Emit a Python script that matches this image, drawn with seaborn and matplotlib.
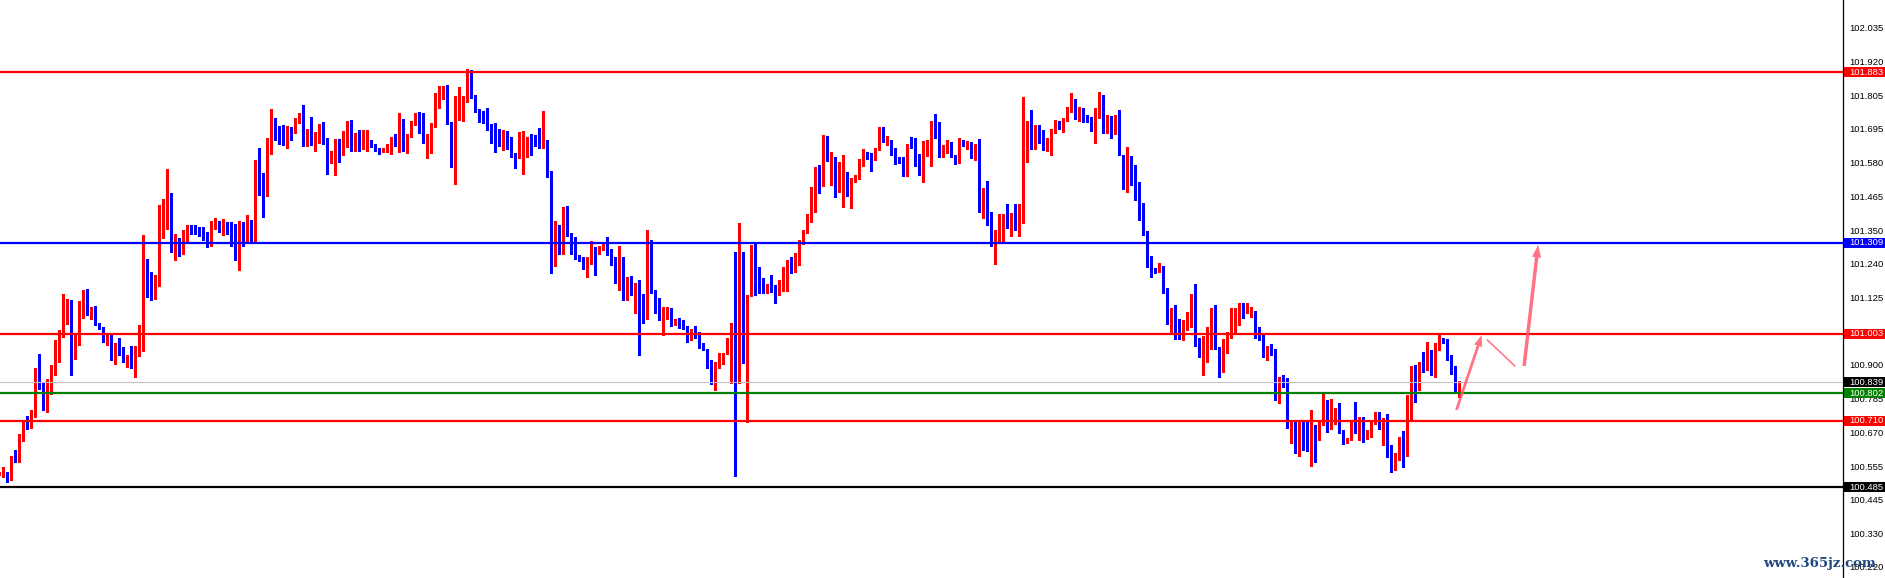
import numpy as np
import matplotlib
matplotlib.use("Agg")
import matplotlib.pyplot as plt
import matplotlib.transforms as mtransforms
from matplotlib.patches import Rectangle
import seaborn as sns

# ========== data (one candle per bar, oldest first) ==========
opens = [
    100.529, 100.529, 100.535, 100.527, 100.580, 100.571, 100.642, 100.702, 100.695, 100.732,
    100.853, 100.839, 100.783, 100.848, 100.871, 100.958, 100.992, 101.080, 101.116, 100.925,
    100.966, 101.082, 101.143, 101.066, 101.093, 101.039, 101.024, 100.977, 100.994, 100.927,
    100.970, 100.950, 100.909, 100.919, 100.909, 100.940, 100.949, 101.242, 101.161, 101.135,
    101.168, 101.361, 101.375, 101.455, 101.281, 101.316, 101.277, 101.317, 101.364, 101.356,
    101.353, 101.339, 101.336, 101.311, 101.371, 101.378, 101.367, 101.370, 101.356, 101.308,
    101.287, 101.377, 101.329, 101.381, 101.377, 101.504, 101.500, 101.489, 101.610, 101.719,
    101.692, 101.672, 101.659, 101.694, 101.679, 101.727, 101.739, 101.659, 101.682, 101.663,
    101.675, 101.682, 101.652, 101.579, 101.608, 101.628, 101.615, 101.649, 101.719, 101.649,
    101.662, 101.635, 101.652, 101.655, 101.640, 101.628, 101.616, 101.622, 101.625, 101.661,
    101.642, 101.723, 101.633, 101.669, 101.711, 101.747, 101.689, 101.644, 101.672, 101.700,
    101.781, 101.821, 101.841, 101.716, 101.590, 101.760, 101.770, 101.785, 101.882, 101.801,
    101.756, 101.725, 101.715, 101.699, 101.682, 101.676, 101.655, 101.664, 101.642, 101.608,
    101.597, 101.601, 101.608, 101.661, 101.638, 101.636, 101.631, 101.635, 101.549, 101.251,
    101.345, 101.289, 101.427, 101.335, 101.327, 101.264, 101.253, 101.233, 101.238, 101.287,
    101.276, 101.287, 101.302, 101.285, 101.246, 101.220, 101.234, 101.130, 101.178, 101.137,
    101.159, 101.137, 101.053, 101.315, 101.144, 101.111, 101.053, 101.080, 101.089, 101.038,
    101.046, 101.040, 101.026, 100.989, 101.017, 101.007, 100.970, 100.952, 100.914, 100.838,
    100.890, 100.903, 100.937, 100.986, 101.004, 100.889, 101.217, 101.023, 101.133, 101.234,
    101.167, 101.158, 101.148, 101.170, 101.163, 101.133, 101.178, 101.218, 101.245, 101.240,
    101.240, 101.309, 101.343, 101.386, 101.437, 101.563, 101.504, 101.638, 101.588, 101.597,
    101.492, 101.526, 101.545, 101.476, 101.518, 101.525, 101.582, 101.608, 101.604, 101.588,
    101.624, 101.695, 101.652, 101.655, 101.612, 101.590, 101.590, 101.535, 101.641, 101.631,
    101.571, 101.543, 101.605, 101.605, 101.717, 101.709, 101.613, 101.622, 101.631, 101.605,
    101.582, 101.648, 101.644, 101.646, 101.622, 101.638, 101.465, 101.491, 101.406, 101.315,
    101.349, 101.369, 101.400, 101.389, 101.408, 101.367, 101.400, 101.676, 101.686, 101.667,
    101.686, 101.658, 101.653, 101.655, 101.680, 101.716, 101.700, 101.723, 101.762, 101.792,
    101.745, 101.759, 101.732, 101.732, 101.687, 101.756, 101.792, 101.720, 101.725, 101.678,
    101.736, 101.605, 101.534, 101.540, 101.510, 101.492, 101.395, 101.343, 101.248, 101.220,
    101.215, 101.231, 101.141, 101.038, 101.087, 101.038, 101.021, 101.038, 101.038, 101.096,
    100.978, 100.957, 100.995, 101.004, 101.047, 100.952, 100.892, 100.939, 100.991, 101.021,
    101.058, 101.088, 101.077, 101.066, 101.080, 101.004, 101.002, 100.946, 100.959, 100.944,
    100.791, 100.849, 100.838, 100.698, 100.701, 100.633, 100.692, 100.665, 100.620, 100.665,
    100.650, 100.698, 100.746, 100.692, 100.703, 100.740, 100.676, 100.639, 100.647, 100.701,
    100.681, 100.721, 100.650, 100.676, 100.701, 100.718, 100.692, 100.718, 100.602, 100.544,
    100.594, 100.642, 100.591, 100.746, 100.894, 100.819, 100.905, 100.889, 100.928, 100.867,
    100.950, 100.987, 100.982, 100.928, 100.892, 100.821,
]
highs = [
    100.538, 100.554, 100.537, 100.590, 100.610, 100.664, 100.706, 100.725, 100.745, 100.887,
    100.934, 100.840, 100.850, 100.896, 100.981, 101.015, 101.136, 101.121, 101.118, 100.998,
    101.112, 101.149, 101.152, 101.093, 101.095, 101.040, 101.026, 101.003, 100.998, 100.970,
    100.990, 100.958, 100.932, 100.960, 100.960, 101.033, 101.336, 101.255, 101.211, 101.201,
    101.437, 101.457, 101.558, 101.478, 101.339, 101.326, 101.353, 101.370, 101.370, 101.370,
    101.361, 101.364, 101.347, 101.381, 101.393, 101.384, 101.390, 101.378, 101.378, 101.371,
    101.383, 101.380, 101.402, 101.386, 101.588, 101.627, 101.544, 101.661, 101.760, 101.728,
    101.702, 101.706, 101.702, 101.700, 101.731, 101.747, 101.773, 101.692, 101.733, 101.683,
    101.709, 101.716, 101.661, 101.619, 101.659, 101.659, 101.686, 101.720, 101.723, 101.679,
    101.689, 101.689, 101.689, 101.656, 101.641, 101.629, 101.628, 101.641, 101.666, 101.676,
    101.747, 101.725, 101.676, 101.720, 101.748, 101.751, 101.745, 101.676, 101.711, 101.815,
    101.837, 101.837, 101.841, 101.716, 101.804, 101.835, 101.804, 101.893, 101.891, 101.807,
    101.759, 101.754, 101.764, 101.709, 101.711, 101.691, 101.689, 101.686, 101.664, 101.613,
    101.683, 101.687, 101.667, 101.675, 101.672, 101.695, 101.753, 101.655, 101.551, 101.382,
    101.369, 101.431, 101.434, 101.341, 101.328, 101.268, 101.260, 101.262, 101.314, 101.296,
    101.300, 101.313, 101.330, 101.289, 101.260, 101.298, 101.262, 101.195, 101.197, 101.175,
    101.184, 101.138, 101.352, 101.318, 101.149, 101.122, 101.092, 101.094, 101.090, 101.052,
    101.055, 101.049, 101.029, 101.020, 101.029, 101.008, 100.971, 100.953, 100.915, 100.909,
    100.937, 100.938, 100.988, 101.038, 101.279, 101.375, 101.277, 101.134, 101.302, 101.307,
    101.226, 101.189, 101.170, 101.200, 101.167, 101.184, 101.226, 101.251, 101.262, 101.276,
    101.318, 101.352, 101.405, 101.498, 101.563, 101.571, 101.672, 101.669, 101.616, 101.599,
    101.582, 101.605, 101.546, 101.526, 101.537, 101.590, 101.624, 101.616, 101.613, 101.627,
    101.700, 101.700, 101.669, 101.656, 101.627, 101.599, 101.599, 101.642, 101.667, 101.661,
    101.607, 101.652, 101.655, 101.719, 101.743, 101.717, 101.638, 101.655, 101.649, 101.605,
    101.661, 101.655, 101.652, 101.650, 101.642, 101.659, 101.495, 101.518, 101.414, 101.352,
    101.406, 101.406, 101.440, 101.409, 101.440, 101.440, 101.801, 101.720, 101.756, 101.706,
    101.706, 101.689, 101.661, 101.691, 101.723, 101.720, 101.728, 101.768, 101.815, 101.793,
    101.768, 101.762, 101.740, 101.734, 101.762, 101.818, 101.807, 101.740, 101.736, 101.740,
    101.756, 101.606, 101.631, 101.601, 101.570, 101.515, 101.442, 101.350, 101.265, 101.223,
    101.242, 101.232, 101.156, 101.091, 101.100, 101.051, 101.049, 101.077, 101.136, 101.170,
    100.987, 100.996, 101.027, 101.088, 101.100, 100.957, 100.986, 101.010, 101.088, 101.088,
    101.105, 101.105, 101.107, 101.094, 101.081, 101.026, 101.003, 100.961, 100.968, 100.953,
    100.858, 100.864, 100.853, 100.712, 100.706, 100.710, 100.712, 100.710, 100.746, 100.695,
    100.706, 100.802, 100.779, 100.782, 100.751, 100.768, 100.677, 100.651, 100.706, 100.774,
    100.723, 100.723, 100.679, 100.712, 100.740, 100.740, 100.719, 100.732, 100.628, 100.601,
    100.654, 100.676, 100.796, 100.894, 100.897, 100.909, 100.942, 100.976, 100.948, 100.973,
    101.004, 100.989, 100.984, 100.931, 100.894, 100.843,
]
lows = [
    100.526, 100.520, 100.504, 100.509, 100.571, 100.570, 100.641, 100.683, 100.686, 100.723,
    100.817, 100.745, 100.739, 100.801, 100.864, 100.908, 100.991, 101.037, 100.863, 100.918,
    100.965, 101.057, 101.065, 101.054, 101.031, 101.018, 100.974, 100.964, 100.916, 100.902,
    100.930, 100.907, 100.892, 100.886, 100.857, 100.928, 100.946, 101.125, 101.115, 101.119,
    101.165, 101.324, 101.357, 101.279, 101.250, 101.263, 101.270, 101.314, 101.339, 101.339,
    101.333, 101.317, 101.294, 101.297, 101.354, 101.344, 101.337, 101.339, 101.299, 101.250,
    101.216, 101.300, 101.309, 101.309, 101.309, 101.470, 101.397, 101.468, 101.609, 101.655,
    101.642, 101.638, 101.628, 101.657, 101.678, 101.714, 101.635, 101.635, 101.637, 101.618,
    101.644, 101.642, 101.541, 101.578, 101.537, 101.582, 101.606, 101.633, 101.619, 101.619,
    101.619, 101.624, 101.619, 101.631, 101.619, 101.609, 101.615, 101.616, 101.608, 101.635,
    101.616, 101.619, 101.613, 101.667, 101.706, 101.678, 101.644, 101.596, 101.613, 101.699,
    101.764, 101.792, 101.709, 101.563, 101.506, 101.723, 101.721, 101.784, 101.796, 101.751,
    101.717, 101.711, 101.689, 101.644, 101.616, 101.635, 101.622, 101.624, 101.597, 101.562,
    101.596, 101.541, 101.597, 101.604, 101.634, 101.627, 101.630, 101.532, 101.208, 101.231,
    101.273, 101.270, 101.331, 101.271, 101.253, 101.249, 101.222, 101.195, 101.237, 101.202,
    101.271, 101.285, 101.268, 101.236, 101.175, 101.150, 101.118, 101.116, 101.133, 101.074,
    100.932, 101.040, 101.052, 101.141, 101.074, 101.049, 100.997, 101.053, 101.029, 101.032,
    101.023, 101.018, 100.976, 100.982, 100.989, 100.954, 100.948, 100.886, 100.833, 100.813,
    100.886, 100.901, 100.936, 100.838, 100.523, 100.838, 100.905, 100.706, 101.130, 101.133,
    101.141, 101.139, 101.139, 101.144, 101.107, 101.132, 101.148, 101.148, 101.208, 101.212,
    101.234, 101.305, 101.341, 101.379, 101.414, 101.478, 101.500, 101.586, 101.504, 101.464,
    101.481, 101.431, 101.467, 101.427, 101.514, 101.523, 101.568, 101.590, 101.552, 101.587,
    101.622, 101.649, 101.638, 101.605, 101.575, 101.579, 101.534, 101.534, 101.630, 101.568,
    101.536, 101.515, 101.602, 101.568, 101.661, 101.599, 101.599, 101.610, 101.597, 101.575,
    101.579, 101.635, 101.624, 101.594, 101.588, 101.414, 101.391, 101.369, 101.299, 101.238,
    101.309, 101.315, 101.358, 101.332, 101.352, 101.332, 101.377, 101.582, 101.624, 101.624,
    101.644, 101.622, 101.619, 101.605, 101.678, 101.691, 101.683, 101.720, 101.751, 101.725,
    101.720, 101.717, 101.717, 101.686, 101.646, 101.728, 101.680, 101.680, 101.663, 101.676,
    101.604, 101.492, 101.481, 101.504, 101.453, 101.386, 101.336, 101.229, 101.195, 101.208,
    101.212, 101.139, 101.035, 101.006, 100.984, 100.984, 100.982, 101.017, 101.026, 100.961,
    100.923, 100.864, 100.909, 100.950, 100.950, 100.856, 100.875, 100.938, 100.987, 101.010,
    101.032, 101.055, 101.074, 101.060, 100.990, 100.981, 100.923, 100.916, 100.931, 100.779,
    100.770, 100.822, 100.684, 100.636, 100.602, 100.591, 100.611, 100.609, 100.557, 100.572,
    100.645, 100.697, 100.673, 100.681, 100.698, 100.669, 100.633, 100.636, 100.645, 100.669,
    100.645, 100.639, 100.647, 100.656, 100.698, 100.681, 100.628, 100.586, 100.538, 100.543,
    100.577, 100.555, 100.590, 100.714, 100.774, 100.813, 100.875, 100.880, 100.864, 100.856,
    100.948, 100.970, 100.914, 100.867, 100.807, 100.791,
]
closes = [
    100.534, 100.536, 100.527, 100.583, 100.571, 100.644, 100.702, 100.699, 100.738, 100.853,
    100.837, 100.783, 100.849, 100.876, 100.961, 100.994, 101.082, 101.116, 100.927, 100.970,
    101.082, 101.143, 101.066, 101.091, 101.039, 101.019, 100.981, 100.994, 100.927, 100.966,
    100.947, 100.908, 100.917, 100.909, 100.942, 100.953, 101.245, 101.159, 101.133, 101.171,
    101.366, 101.377, 101.455, 101.283, 101.314, 101.277, 101.319, 101.364, 101.354, 101.348,
    101.334, 101.334, 101.311, 101.373, 101.378, 101.367, 101.371, 101.352, 101.302, 101.287,
    101.377, 101.330, 101.381, 101.377, 101.504, 101.495, 101.489, 101.610, 101.719, 101.689,
    101.670, 101.655, 101.698, 101.679, 101.730, 101.739, 101.659, 101.686, 101.663, 101.679,
    101.683, 101.650, 101.582, 101.615, 101.628, 101.615, 101.655, 101.719, 101.635, 101.662,
    101.635, 101.652, 101.655, 101.638, 101.623, 101.616, 101.626, 101.627, 101.664, 101.642,
    101.723, 101.633, 101.672, 101.714, 101.747, 101.684, 101.646, 101.672, 101.707, 101.783,
    101.824, 101.828, 101.711, 101.590, 101.762, 101.770, 101.790, 101.888, 101.799, 101.754,
    101.723, 101.711, 101.697, 101.680, 101.672, 101.655, 101.662, 101.635, 101.601, 101.597,
    101.605, 101.610, 101.660, 101.635, 101.635, 101.633, 101.638, 101.549, 101.251, 101.349,
    101.285, 101.427, 101.332, 101.305, 101.259, 101.251, 101.238, 101.242, 101.287, 101.276,
    101.289, 101.302, 101.285, 101.240, 101.220, 101.234, 101.130, 101.178, 101.139, 101.159,
    101.137, 101.053, 101.315, 101.144, 101.105, 101.053, 101.083, 101.089, 101.032, 101.046,
    101.038, 101.021, 100.989, 101.015, 100.995, 100.959, 100.953, 100.914, 100.838, 100.892,
    100.905, 100.937, 100.987, 101.004, 100.892, 101.217, 101.023, 101.133, 101.234, 101.167,
    101.152, 101.148, 101.163, 101.158, 101.133, 101.178, 101.220, 101.245, 101.240, 101.245,
    101.313, 101.346, 101.389, 101.440, 101.559, 101.504, 101.638, 101.588, 101.599, 101.492,
    101.526, 101.545, 101.470, 101.518, 101.530, 101.586, 101.608, 101.597, 101.588, 101.624,
    101.695, 101.653, 101.655, 101.608, 101.579, 101.582, 101.535, 101.641, 101.631, 101.571,
    101.543, 101.618, 101.622, 101.717, 101.706, 101.613, 101.622, 101.631, 101.601, 101.579,
    101.644, 101.644, 101.647, 101.619, 101.638, 101.467, 101.491, 101.403, 101.315, 101.349,
    101.369, 101.400, 101.389, 101.408, 101.399, 101.403, 101.678, 101.686, 101.669, 101.683,
    101.655, 101.653, 101.658, 101.683, 101.714, 101.702, 101.725, 101.765, 101.796, 101.745,
    101.759, 101.734, 101.727, 101.687, 101.759, 101.792, 101.720, 101.728, 101.678, 101.736,
    101.605, 101.534, 101.540, 101.507, 101.489, 101.388, 101.339, 101.249, 101.212, 101.214,
    101.231, 101.141, 101.038, 101.087, 101.035, 101.017, 101.043, 101.043, 101.096, 100.973,
    100.959, 100.995, 101.026, 101.047, 100.952, 100.889, 100.948, 100.995, 101.026, 101.060,
    101.088, 101.080, 101.099, 101.080, 101.002, 100.987, 100.946, 100.959, 100.942, 100.791,
    100.849, 100.838, 100.698, 100.706, 100.633, 100.690, 100.662, 100.620, 100.665, 100.650,
    100.701, 100.746, 100.681, 100.734, 100.740, 100.673, 100.639, 100.650, 100.701, 100.681,
    100.721, 100.650, 100.678, 100.706, 100.718, 100.690, 100.718, 100.602, 100.541, 100.600,
    100.642, 100.591, 100.746, 100.875, 100.824, 100.905, 100.889, 100.931, 100.867, 100.950,
    100.984, 100.976, 100.920, 100.886, 100.815, 100.841,
]

# horizontal levels drawn on the chart
level_prices = [101.883, 101.309, 101.003, 100.839, 100.802, 100.710, 100.485]
level_colors = ['#ff0000', '#0000ff', '#ff0000', '#c0c0c0', '#008000', '#ff0000', '#000000']
level_widths = [1.6, 1.6, 1.6, 0.8, 1.6, 1.6, 1.6]
box_colors = ['#ff0000', '#0000ff', '#ff0000', '#000000', '#008000', '#ff0000', '#000000']

# price scale on the right
tick_prices = [102.035, 101.920, 101.805, 101.695, 101.580, 101.465, 101.350, 101.240,
               101.125, 101.010, 100.900, 100.785, 100.670, 100.555, 100.445, 100.330, 100.220]

# hand drawn arrows (bar index, price)
arrow1 = [(364.3, 100.746), (370.6, 100.998)]
stroke2 = [(372.0, 100.982), (378.9, 100.894)]
arrow3 = [(381.2, 100.894), (384.7, 101.302)]

# ========== drawing ==========
sns.set_theme(style='white')
plt.rcParams['font.family'] = ['Liberation Sans', 'DejaVu Sans']

W, H = 1885, 578
AX_RIGHT = 1843
fig = plt.figure(figsize=(W / 100, H / 100), dpi=100)
fig.patch.set_facecolor('white')
ax = fig.add_axes([0, 0, AX_RIGHT / W, 1])
ax.set_facecolor('white')

o = np.array(opens)
h = np.array(highs)
l = np.array(lows)
c = np.array(closes)
x = np.arange(len(c))
col = np.where(c >= o, '#ff0000', '#0000ff')
bottom = np.minimum(o, c)
height = np.maximum(np.abs(c - o), 0.0034)

ax.vlines(x, l, h, colors=col, linewidth=0.75, antialiased=False, zorder=2)
ax.bar(x, height, bottom=bottom, width=0.8, color=col, linewidth=0,
       antialiased=False, zorder=3)

for p, lc, lw in zip(level_prices, level_colors, level_widths):
    ax.axhline(p, color=lc, linewidth=lw, zorder=4)

arrow_col = '#ff5a6e'
ax.annotate('', xy=arrow1[1], xytext=arrow1[0],
            arrowprops=dict(arrowstyle='simple,head_length=0.8,head_width=0.6,tail_width=0.2',
                            color=arrow_col, alpha=0.85, lw=0, shrinkA=0, shrinkB=0,
                            mutation_scale=10), zorder=5)
ax.plot([stroke2[0][0], stroke2[1][0]], [stroke2[0][1], stroke2[1][1]],
        color=arrow_col, alpha=0.8, linewidth=1.2, zorder=5)
ax.annotate('', xy=arrow3[1], xytext=arrow3[0],
            arrowprops=dict(arrowstyle='simple,head_length=0.9,head_width=0.65,tail_width=0.25',
                            color=arrow_col, alpha=0.85, lw=0, shrinkA=0, shrinkB=0,
                            mutation_scale=10), zorder=5)

ax.set_xlim(0.175, (AX_RIGHT + 0.7) / 4)
ax.set_ylim(100.180, 102.127)
ax.set_xticks([])
ax.yaxis.tick_right()
ax.set_yticks(tick_prices)
ax.set_yticklabels([f'{t:.3f}' for t in tick_prices])
ax.tick_params(axis='y', direction='out', length=3, width=0.8, pad=1.5,
               labelsize=6.8, colors='black', right=True, left=False)
sns.despine(ax=ax, left=True, top=True, bottom=True, right=False)
ax.spines['right'].set_color('black')
ax.spines['right'].set_linewidth(0.9)
ax.grid(False)

# coloured price boxes on the scale
ident = mtransforms.IdentityTransform()
for p, bc in zip(level_prices, box_colors):
    ypx = ax.transData.transform((0, p))[1]
    fig.add_artist(Rectangle((AX_RIGHT + 1, ypx - 5), W - AX_RIGHT - 1, 10,
                             transform=ident, facecolor=bc, edgecolor='none', zorder=5))
    fig.text(AX_RIGHT + 6, ypx, f'{p:.3f}', transform=ident, color='white',
             fontsize=6.8, va='center', ha='left', zorder=6)

fig.text(1763 / W, 11 / H, 'www.365jz.com', color='#1f467e', fontsize=9.5,
         family=['DejaVu Serif'], weight='bold', va='baseline', ha='left', zorder=7)

fig.savefig('out.png', dpi=100)
